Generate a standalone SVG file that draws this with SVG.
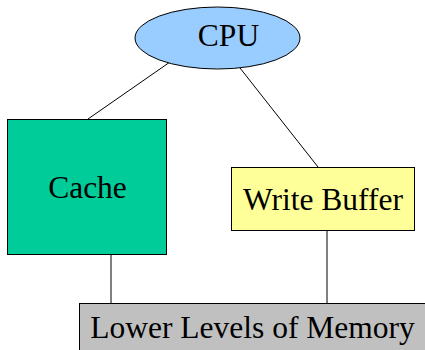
<svg xmlns="http://www.w3.org/2000/svg" width="425" height="350" viewBox="0 0 425 350">
<style>
.n{stroke:#000;stroke-width:1}
.t{font-family:"Liberation Serif","Times New Roman",serif;font-size:31.5px;fill:#000;text-anchor:middle}
.c{stroke:#000;stroke-width:1;fill:none}
</style>
<rect width="425" height="350" fill="#fff"/>
<g id="connectors">
<line class="c" x1="88" y1="119" x2="170" y2="62"/>
<line class="c" x1="240" y1="68" x2="318" y2="167"/>
<line class="c" x1="111" y1="255" x2="111" y2="303"/>
<line class="c" x1="327" y1="231" x2="327" y2="303"/>
</g>
<g id="cpu">
<ellipse class="n" cx="217.5" cy="38" rx="82.5" ry="31" fill="#99CCFF"/>
<text class="t" x="228.5" y="46">CPU</text>
</g>
<g id="cache">
<rect class="n" x="7.5" y="119.5" width="159" height="135" fill="#00CC99"/>
<text class="t" x="87.5" y="198">Cache</text>
</g>
<g id="writebuffer">
<rect class="n" x="231.5" y="167.5" width="183" height="63" fill="#FFFF99"/>
<text class="t" x="323" y="210">Write Buffer</text>
</g>
<g id="memory">
<rect class="n" x="79.5" y="303.5" width="360" height="60" fill="#C0C0C0"/>
<text class="t" x="252.5" y="338">Lower Levels of Memory</text>
</g>
</svg>
